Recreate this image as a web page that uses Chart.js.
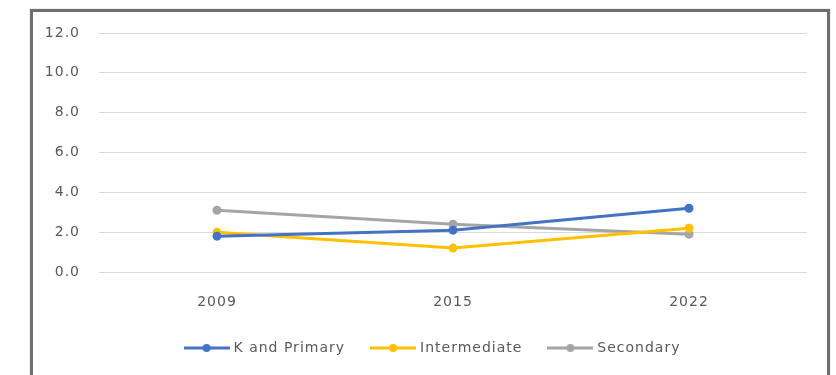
<!DOCTYPE html>
<html>
<head>
<meta charset="utf-8">
<script src="https://cdn.jsdelivr.net/npm/chart.js@4.4.1/dist/chart.umd.min.js"></script>
<style>
  html, body { margin: 0; padding: 0; background: #ffffff; }
  body { width: 836px; height: 375px; position: relative; overflow: hidden; }
  #frame {
    position: absolute; left: 30px; top: 9px; width: 794px; height: 400px;
    border: 3px solid #6f6f6f; box-sizing: content-box;
    box-shadow: 0 0 1px #9a9a9a;
  }
  #wrap { position: absolute; left: 0; top: 0; width: 836px; height: 375px; }
</style>
</head>
<body>
<div id="frame"></div>
<div id="wrap"><canvas id="chart" width="836" height="375"></canvas></div>
<script>
// School levels compared across three survey years
const years = ['2009', '2015', '2022'];
const kPrimary = [1.8, 2.1, 3.2];
const intermediate = [2.0, 1.2, 2.2];
const secondary = [3.1, 2.4, 1.9];
const seriesNames = ['K and Primary', 'Intermediate', 'Secondary'];
const seriesColors = ['#4472C4', '#FFC000', '#A5A5A5'];
const yTicks = [0, 2, 4, 6, 8, 10, 12];

const textColor = '#595959';
const fontFamily = '"DejaVu Sans", sans-serif';

// Legend swatch: a short line with a dot in the middle
function swatch(color) {
  const c = document.createElement('canvas');
  c.width = 46; c.height = 12;
  const g = c.getContext('2d');
  g.strokeStyle = color; g.lineWidth = 3;
  g.beginPath(); g.moveTo(0, 6); g.lineTo(46, 6); g.stroke();
  g.fillStyle = color;
  g.beginPath(); g.arc(23, 6, 4, 0, Math.PI * 2); g.fill();
  return c;
}

// Slightly open letter spacing for all chart text
const spacedText = {
  id: 'spacedText',
  beforeLayout: chart => { chart.ctx.letterSpacing = '1px'; },
  beforeDraw: chart => { chart.ctx.letterSpacing = '1px'; }
};

// Nudge the legend block under the plot
const legendShift = {
  id: 'legendShift',
  afterLayout: chart => {
    const lg = chart.legend;
    lg.left += 30; lg.right += 30;
    lg.top -= 10; lg.bottom -= 10;
  }
};

const seriesValues = [kPrimary, intermediate, secondary];
const datasets = seriesValues.map((vals, i) => ({
  label: seriesNames[i],
  data: vals.map((v, j) => ({ x: j, y: v })),
  borderColor: seriesColors[i],
  backgroundColor: seriesColors[i],
  borderWidth: 3,
  pointRadius: 4.5,
  pointHoverRadius: 4.5,
  pointBorderWidth: 0,
  pointStyle: 'circle',
  tension: 0,
  legendSwatch: swatch(seriesColors[i])
}));

new Chart(document.getElementById('chart'), {
  type: 'line',
  data: { datasets },
  plugins: [spacedText, legendShift],
  options: {
    responsive: false,
    animation: false,
    events: [],
    layout: { padding: { top: 33, right: 29, left: 0, bottom: 0 } },
    scales: {
      x: {
        type: 'linear',
        min: -0.5,
        max: 2.5,
        grid: { display: false, drawTicks: false },
        border: { display: false },
        afterBuildTicks: s => { s.ticks = years.map((_, i) => ({ value: i })); },
        afterFit: s => { s.height = 51; },
        ticks: {
          color: textColor,
          font: { family: fontFamily, size: 14 },
          padding: 22,
          maxRotation: 0,
          callback: v => years[v] ?? ''
        }
      },
      y: {
        min: 0,
        max: 12,
        afterBuildTicks: s => { s.ticks = yTicks.map(v => ({ value: v })); },
        afterFit: s => { s.width = 99; },
        grid: { color: '#d9d9d9', lineWidth: 1, drawTicks: false },
        border: { display: false },
        ticks: {
          color: textColor,
          font: { family: fontFamily, size: 14 },
          padding: 19,
          callback: v => Number(v).toFixed(1)
        }
      }
    },
    plugins: {
      tooltip: { enabled: false },
      legend: {
        position: 'bottom',
        labels: {
          color: textColor,
          font: { family: fontFamily, size: 14 },
          usePointStyle: true,
          pointStyleWidth: 40,
          boxHeight: 12,
          padding: 28,
          generateLabels: chart => chart.data.datasets.map((d, i) => ({
            text: d.label,
            pointStyle: d.legendSwatch,
            fillStyle: d.borderColor,
            strokeStyle: d.borderColor,
            lineWidth: 0,
            fontColor: textColor,
            hidden: false,
            datasetIndex: i
          }))
        }
      }
    }
  }
});
</script>
</body>
</html>
